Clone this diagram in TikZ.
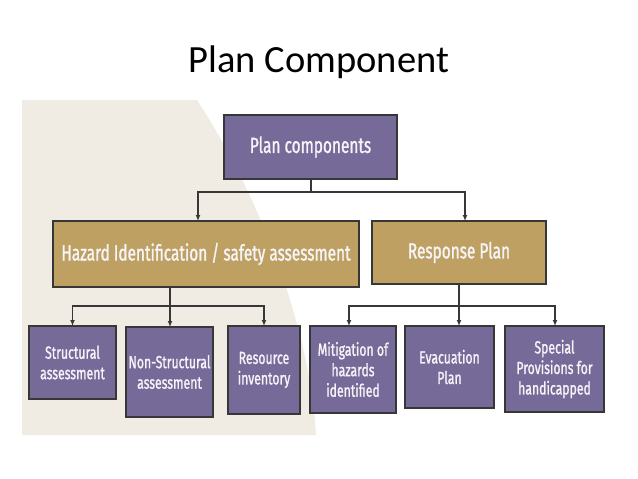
\documentclass[tikz,border=0pt]{standalone}
\usepackage{fontspec}
\setmainfont{Carlito}
\newfontfamily\boxfont[FakeStretch=0.7,FakeBold=1.2]{Fira Sans}
\usetikzlibrary{arrows.meta}
\definecolor{purp}{RGB}{117,106,152}
\definecolor{tan}{RGB}{190,161,98}
\definecolor{beige}{RGB}{240,236,227}
\definecolor{bord}{RGB}{55,55,55}
\definecolor{txt}{RGB}{246,244,248}
\tikzset{
  box/.style={draw=bord, line width=1.2pt, inner sep=0pt, outer sep=0pt, text=txt, align=center},
  pbox/.style={box, fill=purp},
  tbox/.style={box, fill=tan},
  big/.style={font=\boxfont\fontsize{22}{26}\selectfont},
  small/.style={font=\boxfont\fontsize{17.5}{20.5}\selectfont},
  conn/.style={draw=bord, line width=1.3pt},
  arr/.style={conn, -{Latex[length=6pt,width=5pt]}}
}
\begin{document}
\begin{tikzpicture}[x=1pt,y=-1pt]
\useasboundingbox (0,0) rectangle (638,479);
\fill[white] (0,0) rectangle (638,479);
% background shape
\fill[beige] (22,100) -- (197,100) .. controls (262,200) and (310,330) .. (316,435) -- (22,435) -- cycle;
% title
\node[font=\fontsize{38.5}{46}\selectfont, anchor=base] (title) at (319,72) {Plan Component};
% boxes
\node[pbox, big, minimum width=173, minimum height=64] (top) at (310.5,147) {Plan components};
\node[tbox, big, minimum width=306, minimum height=66] (haz) at (206,254) {Hazard Identification / safety assessment};
\node[tbox, big, minimum width=174, minimum height=63] (resp) at (459,252.5) {Response Plan};
\node[pbox, small, minimum width=87, minimum height=73] (str) at (72.5,362.5) {Structural\\assessment};
\node[pbox, small, minimum width=87, minimum height=90] (nst) at (169.5,372) {Non-Structural\\assessment};
\node[pbox, small, minimum width=72, minimum height=88] (res) at (264,370) {Resource\\inventory};
\node[pbox, small, minimum width=86, minimum height=87] (mit) at (353,369.5) {Mitigation of\\hazards\\identified};
\node[pbox, small, minimum width=89, minimum height=82] (eva) at (449.5,367) {Evacuation\\Plan};
\node[pbox, small, minimum width=99, minimum height=86] (spe) at (554.5,369) {Special\\Provisions for\\handicapped};
% connector coordinates
\coordinate (j1) at (311,192);
\coordinate (hazin) at (198,221);
\coordinate (respin) at (465,221);
\coordinate (hazout) at (170,287);
\coordinate (j2) at (170,306);
\coordinate (j3) at (459,306);
\coordinate (mitin) at (349,326);
\coordinate (evain) at (459,326);
\coordinate (spein) at (555,326);
% connectors
\draw[conn] (top.south -| j1) -- (j1);
\draw[arr] (j1) -| (hazin);
\draw[arr] (j1) -| (respin);
\draw[conn] (hazout) -- (j2);
\draw[arr] (j2) -| (str.north);
\draw[arr] (j2) -- (nst.north -| j2);
\draw[arr] (j2) -| (res.north);
\draw[conn] (resp.south -| j3) -- (j3);
\draw[arr] (j3) -| (mitin);
\draw[arr] (j3) -- (evain);
\draw[arr] (j3) -| (spein);
\end{tikzpicture}
\end{document}
